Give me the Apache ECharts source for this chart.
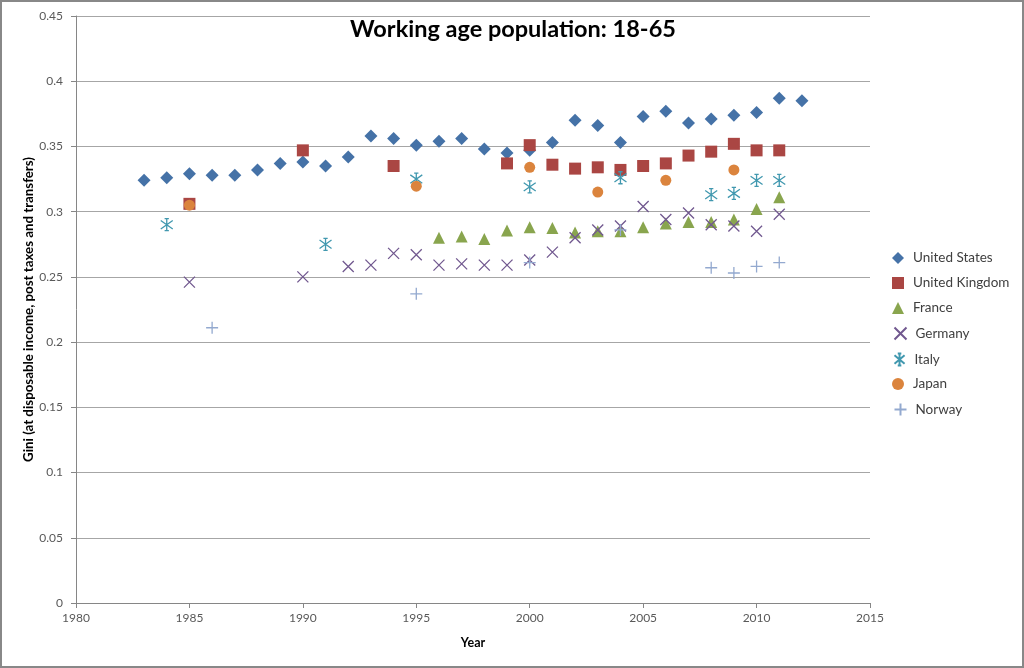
<!DOCTYPE html>
<html>
<head>
<meta charset="utf-8">
<script src="https://cdn.jsdelivr.net/npm/echarts@6/dist/echarts.min.js"></script>
<style>
html,body{margin:0;padding:0;background:#fff;}
#chart{width:1024px;height:668px;}
</style>
</head>
<body>
<div id="chart"></div>
<script>
const usYears = [1983,1984,1985,1986,1987,1988,1989,1990,1991,1992,1993,1994,1995,1996,1997,1998,1999,2000,2001,2002,2003,2004,2005,2006,2007,2008,2009,2010,2011,2012];
const usVals  = [0.324,0.326,0.329,0.328,0.328,0.332,0.337,0.338,0.335,0.342,0.358,0.356,0.351,0.354,0.356,0.348,0.345,0.347,0.353,0.370,0.366,0.353,0.373,0.377,0.368,0.371,0.374,0.376,0.387,0.385];
const ukYears = [1985,1990,1994,1999,2000,2001,2002,2003,2004,2005,2006,2007,2008,2009,2010,2011];
const ukVals  = [0.306,0.347,0.335,0.337,0.351,0.336,0.333,0.334,0.332,0.335,0.337,0.343,0.346,0.352,0.347,0.347];
const frYears = [1996,1997,1998,1999,2000,2001,2002,2003,2004,2005,2006,2007,2008,2009,2010,2011];
const frVals  = [0.280,0.281,0.279,0.2855,0.288,0.2875,0.284,0.285,0.285,0.288,0.291,0.292,0.292,0.294,0.302,0.311];
const deYears = [1985,1990,1992,1993,1994,1995,1996,1997,1998,1999,2000,2001,2002,2003,2004,2005,2006,2007,2008,2009,2010,2011];
const deVals  = [0.246,0.250,0.258,0.259,0.268,0.267,0.259,0.260,0.259,0.259,0.263,0.269,0.280,0.286,0.289,0.304,0.294,0.299,0.290,0.289,0.285,0.298];
const itYears = [1984,1991,1995,2000,2004,2008,2009,2010,2011];
const itVals  = [0.290,0.275,0.325,0.319,0.326,0.313,0.314,0.324,0.324];
const jpYears = [1985,1995,2000,2003,2006,2009];
const jpVals  = [0.305,0.3195,0.334,0.315,0.324,0.332];
const noYears = [1986,1995,2000,2004,2008,2009,2010,2011];
const noVals  = [0.211,0.237,0.261,0.286,0.257,0.253,0.258,0.261];
const seriesNames = ['United States','United Kingdom','France','Germany','Italy','Japan','Norway'];
const xTicks = {min:1980, max:2015, interval:5};
const yTicks = {min:0, max:0.45, interval:0.05};

const pairs = (xs, ys) => xs.map((x,i) => [x, ys[i]]);
const FONT = 'Lato';
const X_PATH = 'path://M0,0L10,10M10,0L0,10';
const PLUS_PATH = 'path://M5,0L5,10M0,5L10,5';
const STAR_PATH = 'path://M5,0L5,10M0.8,1.5L9.2,8.5M9.2,1.5L0.8,8.5M3.5,0L6.5,0M3.5,10L6.5,10';

function filled(name, xs, ys, symbol, size, color){
  return {name, type:'scatter', data:pairs(xs,ys), symbol, symbolSize:size,
    itemStyle:{color, opacity:1}, emphasis:{disabled:true}};
}
function stroked(name, xs, ys, symbol, size, color, w){
  return {name, type:'scatter', data:pairs(xs,ys), symbol, symbolSize:size,
    itemStyle:{color:'none', borderColor:color, borderWidth:w, opacity:1}, emphasis:{disabled:true}};
}

const legendTops = [251, 276, 301, 325, 351, 377, 401];
const legends = seriesNames.map((n, i) => ({
  orient:'vertical', left:892, top:legendTops[i], itemWidth:12, itemHeight:12, itemGap:0,
  padding:0,
  textStyle:{fontFamily:FONT, fontSize:13.5, color:'#404040', padding:[0,0,0,4]},
  data:[n]
}));

const chart = echarts.init(document.getElementById('chart'), null, {renderer:'canvas'});
chart.setOption({
  animation:false,
  backgroundColor:'#fff',
  textStyle:{fontFamily:FONT},
  title:{text:'Working age population: 18-65', left:508, textAlign:'center', top:12,
    textStyle:{fontFamily:FONT, fontSize:23.5, fontWeight:'bold', color:'#000'}},
  graphic:[{type:'rect', shape:{x:1,y:1,width:1022,height:666}, style:{fill:'none', stroke:'#888', lineWidth:2}, silent:true}],
  grid:{left:76, right:154, top:16, bottom:65},
  legend:legends,
  xAxis:{type:'value', min:xTicks.min, max:xTicks.max, interval:xTicks.interval,
    name:'Year', nameLocation:'middle', nameGap:33,
    nameTextStyle:{fontFamily:FONT, fontSize:12.5, fontWeight:'bold', color:'#000'},
    axisLine:{show:true, lineStyle:{color:'#868686'}},
    axisTick:{show:true, length:5, lineStyle:{color:'#868686'}},
    axisLabel:{fontFamily:FONT, fontSize:12, color:'#595959', margin:9,
      formatter: v => String(v)},
    splitLine:{show:false}},
  yAxis:{type:'value', min:yTicks.min, max:yTicks.max, interval:yTicks.interval,
    name:'Gini (at disposable income, post taxes and transfers)', nameLocation:'middle', nameGap:41,
    nameMoveOverlap:false,
    nameTextStyle:{fontFamily:FONT, fontSize:13.3, fontWeight:'bold', color:'#000'},
    axisLine:{show:true, lineStyle:{color:'#868686'}},
    axisTick:{show:true, length:5, lineStyle:{color:'#868686'}},
    axisLabel:{fontFamily:FONT, fontSize:12, color:'#595959', margin:13,
      formatter: v => String(+v.toFixed(2))},
    splitLine:{show:true, lineStyle:{color:'#a6a6a6'}}},
  series:[
    filled(seriesNames[0], usYears, usVals, 'diamond', 13, '#4572A7'),
    filled(seriesNames[1], ukYears, ukVals, 'rect', 12, '#AA4643'),
    filled(seriesNames[2], frYears, frVals, 'triangle', 12, '#89A54E'),
    stroked(seriesNames[3], deYears, deVals, X_PATH, 11, '#71588F', 1.3),
    stroked(seriesNames[4], itYears, itVals, STAR_PATH, 12, '#4198AF', 1.3),
    filled(seriesNames[5], jpYears, jpVals, 'circle', 11, '#DB843D'),
    stroked(seriesNames[6], noYears, noVals, PLUS_PATH, 12, '#93A9CF', 1.3)
  ]
});
</script>
</body>
</html>
